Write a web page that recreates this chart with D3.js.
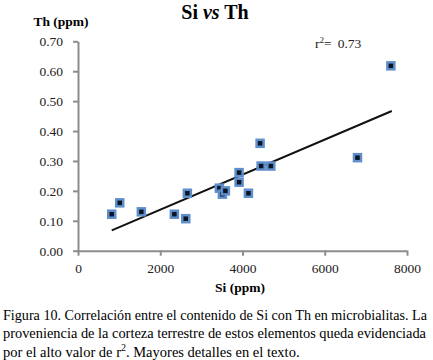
<!DOCTYPE html>
<html>
<head>
<meta charset="utf-8">
<script src="https://cdn.jsdelivr.net/npm/d3@7"></script>
<style>
  body { margin: 0; background: #fff; }
  svg text { font-family: "Liberation Serif", "Times New Roman", serif; }
</style>
</head>
<body>
<div id="chart"></div>
<script>
const w = 433
const h = 360
const siValues = [820, 1015, 1540, 2343, 2620, 2659, 3438, 3511, 3584, 3917, 3917, 4144, 4428, 4453, 4689, 6796, 7608]
const thValues = [0.122, 0.160, 0.130, 0.122, 0.107, 0.192, 0.209, 0.189, 0.200, 0.261, 0.229, 0.192, 0.359, 0.283, 0.283, 0.311, 0.618]
const trendX = [820, 7630]
const trendY = [0.068, 0.467]
const xTicks = [0, 2000, 4000, 6000, 8000]
const yTicks = [0, 0.1, 0.2, 0.3, 0.4, 0.5, 0.6, 0.7]
const captionLines = [
    'Figura 10. Correlación entre el contenido de Si con Th en microbialitas. La',
    'proveniencia de la corteza terrestre de estos elementos queda evidenciada'
]
const axisColor = '#8c8c8c'
const serif = '"Liberation Serif", "Times New Roman", serif'

const svg = d3.select('#chart')
    .append('svg')
    .attr('width', w)
    .attr('height', h)

const xScale = d3.scaleLinear()
    .domain([0, 8000])
    .range([78, 407])

const yScale = d3.scaleLinear()
    .domain([0, 0.7])
    .range([250.7, 41.3])

const xAxis = d3.axisBottom(xScale)
    .tickValues(xTicks)
    .tickFormat(d3.format('d'))
    .tickSizeInner(5)
    .tickSizeOuter(0)
    .tickPadding(8)

const yAxis = d3.axisLeft(yScale)
    .tickValues(yTicks)
    .tickFormat(d3.format('.2f'))
    .tickSizeInner(5)
    .tickSizeOuter(0)
    .tickPadding(10)

svg.append('g')
    .attr('transform', 'translate(0,' + yScale(0) + ')')
    .call(xAxis)
    .attr('font-family', serif)
    .attr('font-size', 13.5)

svg.append('g')
    .attr('transform', 'translate(' + xScale(0) + ',0)')
    .call(yAxis)
    .attr('font-family', serif)
    .attr('font-size', 13.5)

svg.selectAll('.domain, .tick line')
    .attr('stroke', axisColor)
    .attr('stroke-width', 2)

svg.selectAll('.tick text')
    .attr('fill', '#222')

// trend line
svg.append('line')
    .attr('x1', xScale(trendX[0]))
    .attr('y1', yScale(trendY[0]))
    .attr('x2', xScale(trendX[1]))
    .attr('y2', yScale(trendY[1]))
    .attr('stroke', '#111')
    .attr('stroke-width', 2)

// points
svg.selectAll('rect.pt')
    .data(siValues)
    .enter()
    .append('rect')
    .attr('class', 'pt')
    .attr('x', (d) => xScale(d) - 3.5)
    .attr('y', (d, i) => yScale(thValues[i]) - 3.5)
    .attr('width', 7)
    .attr('height', 7)
    .attr('fill', '#0c1424')
    .attr('stroke', '#5f8fca')
    .attr('stroke-width', 2.5)

// titles
const title = svg.append('text')
    .attr('x', 215)
    .attr('y', 19)
    .attr('text-anchor', 'middle')
    .style('font-size', '20px')
    .style('font-weight', 'bold')
title.append('tspan').text('Si ')
title.append('tspan').style('font-style', 'italic').text('vs')
title.append('tspan').text(' Th')

svg.append('text')
    .attr('x', 61)
    .attr('y', 26)
    .attr('text-anchor', 'middle')
    .style('font-size', '13.5px')
    .style('font-weight', 'bold')
    .text('Th (ppm)')

svg.append('text')
    .attr('x', 240)
    .attr('y', 292)
    .attr('text-anchor', 'middle')
    .style('font-size', '13.5px')
    .style('font-weight', 'bold')
    .text('Si (ppm)')

const r2 = svg.append('text')
    .attr('x', 315)
    .attr('y', 48)
    .attr('fill', '#222')
    .style('font-size', '13.5px')
r2.append('tspan').text('r')
r2.append('tspan').attr('dy', -5).style('font-size', '9px').text('2')
r2.append('tspan').attr('dy', 5).text('=')
r2.append('tspan').attr('dx', 6).text('0.73')

// caption
svg.selectAll('text.cap')
    .data(captionLines)
    .enter()
    .append('text')
    .attr('class', 'cap')
    .attr('x', 3)
    .attr('y', (d, i) => 320 + i * 18.3)
    .attr('textLength', (d, i) => i === 0 ? 424 : 423)
    .attr('lengthAdjust', 'spacingAndGlyphs')
    .style('font-size', '14px')
    .text((d) => d)

const cap3 = svg.append('text')
    .attr('x', 3)
    .attr('y', 356.6)
    .style('font-size', '14.5px')
cap3.append('tspan').text('por el alto valor de r')
cap3.append('tspan').attr('dy', -6).style('font-size', '10px').text('2')
cap3.append('tspan').attr('dy', 6).text('. Mayores detalles en el texto.')
</script>
</body>
</html>
